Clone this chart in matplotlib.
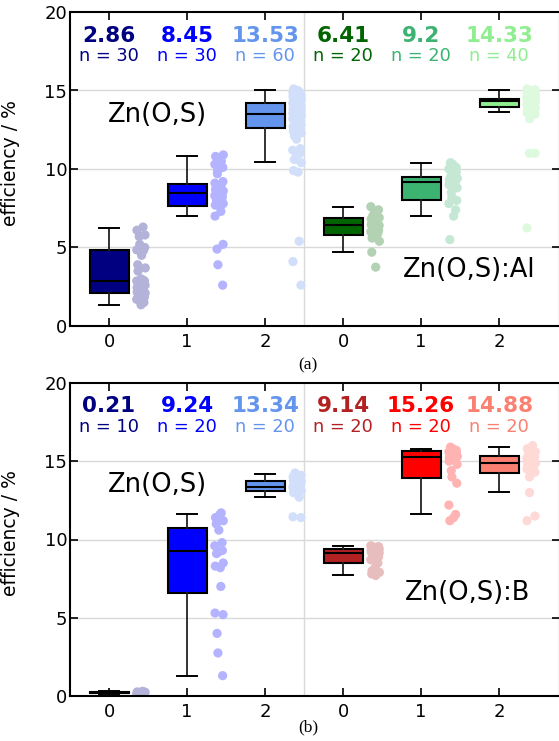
import numpy as np
import matplotlib
matplotlib.use("Agg")
import matplotlib.pyplot as plt
from matplotlib.colors import to_rgb

# ---------------- data ----------------
tick_labels = ["0", "1", "2", "0", "1", "2"]

# panel (a)
a_colors = ["#000080", "#0000FF", "#6495ED", "#006400", "#3CB371", "#90EE90"]
a_n = [30, 30, 60, 20, 20, 40]
a_med = [2.86, 8.45, 13.53, 6.41, 9.2, 14.33]
a_q1 = [2.08, 7.66, 12.61, 5.78, 8.00, 13.95]
a_q3 = [4.84, 9.06, 14.18, 6.86, 9.49, 14.44]
a_lo = [1.34, 7.03, 10.45, 4.71, 7.03, 13.61]
a_hi = [6.26, 10.85, 15.05, 7.58, 10.40, 15.05]
a_pts0 = [1.35, 1.5, 1.7, 1.85, 1.95, 2.05, 2.1, 2.15, 2.2, 2.3, 2.45, 2.6, 2.7, 2.8, 2.85,
          2.87, 2.9, 3.0, 3.5, 3.7, 3.9, 4.5, 4.8, 4.85, 5.0, 5.2, 5.7, 5.8, 6.1, 6.3]
a_pts1 = [2.6, 3.9, 4.9, 5.2, 7.0, 7.3, 7.6, 7.7, 7.8, 8.0, 8.1, 8.2, 8.3, 8.4, 8.45,
          8.5, 8.6, 8.7, 8.8, 9.0, 9.1, 9.2, 9.7, 9.9, 10.1, 10.3, 10.5, 10.6, 10.8, 10.9]
a_pts2 = [2.6, 4.1, 5.4, 9.8, 9.9, 10.4, 10.6, 10.9, 11.0, 11.2, 11.3, 11.9, 12.1, 12.3, 12.4,
          12.5, 12.6, 12.7, 12.8, 12.9, 13.0, 13.1, 13.2, 13.25, 13.3, 13.35, 13.4, 13.45, 13.5, 13.52,
          13.55, 13.6, 13.65, 13.7, 13.75, 13.8, 13.85, 13.9, 13.95, 14.0, 14.05, 14.1, 14.15, 14.2, 14.25,
          14.3, 14.35, 14.4, 14.45, 14.5, 14.55, 14.6, 14.65, 14.7, 14.75, 14.8, 14.85, 14.9, 15.0, 15.1]
a_pts3 = [3.75, 4.7, 5.4, 5.6, 5.8, 5.9, 6.0, 6.1, 6.2, 6.3, 6.4, 6.45, 6.5, 6.6, 6.8,
          6.9, 7.0, 7.2, 7.4, 7.6]
a_pts4 = [5.5, 7.0, 7.4, 7.8, 8.0, 8.2, 8.5, 8.8, 9.0, 9.1, 9.2, 9.3, 9.4, 9.5, 9.6,
          9.8, 10.0, 10.1, 10.3, 10.4]
a_pts5 = [6.25, 11.0, 11.0, 13.2, 13.5, 13.6, 13.7, 13.8, 13.85, 13.9, 13.95, 14.0, 14.05, 14.1,
          14.15, 14.2, 14.25, 14.3, 14.3, 14.33, 14.35, 14.4, 14.4, 14.45, 14.5, 14.5, 14.55, 14.6,
          14.6, 14.65, 14.7, 14.75, 14.8, 14.85, 14.9, 14.95, 15.0, 15.0, 15.05, 15.1]

# panel (b)
b_colors = ["#000080", "#0000FF", "#6495ED", "#B22222", "#FF0000", "#FA8072"]
b_n = [10, 20, 20, 20, 20, 20]
b_med = [0.21, 9.24, 13.34, 9.14, 15.26, 14.88]
b_q1 = [0.17, 6.56, 13.10, 8.50, 13.95, 14.25]
b_q3 = [0.25, 10.76, 13.76, 9.39, 15.65, 15.31]
b_lo = [0.12, 1.28, 12.72, 7.73, 11.63, 13.02]
b_hi = [0.30, 11.63, 14.20, 9.60, 15.80, 15.93]
b_pts0 = [0.1, 0.12, 0.15, 0.18, 0.2, 0.22, 0.24, 0.26, 0.28, 0.3]
b_pts1 = [1.3, 2.75, 4.0, 5.2, 5.3, 7.0, 8.2, 8.3, 8.5, 9.1, 9.2, 9.3, 9.6, 9.8, 10.6,
          11.0, 11.2, 11.4, 11.6, 11.7]
b_pts2 = [11.4, 11.45, 12.7, 12.9, 13.0, 13.1, 13.2, 13.25, 13.3, 13.35, 13.4, 13.5, 13.6,
          13.7, 13.75, 13.8, 13.9, 14.0, 14.1, 14.25]
b_pts3 = [7.7, 7.8, 7.9, 8.0, 8.2, 8.5, 8.7, 8.9, 9.0, 9.1, 9.15, 9.2, 9.25, 9.3, 9.35,
          9.4, 9.45, 9.5, 9.55, 9.6]
b_pts4 = [11.2, 11.4, 11.6, 12.2, 13.6, 14.0, 14.4, 14.8, 15.0, 15.1, 15.2, 15.25, 15.3,
          15.4, 15.5, 15.55, 15.6, 15.7, 15.8, 15.9]
b_pts5 = [11.2, 11.5, 13.0, 14.0, 14.3, 14.5, 14.6, 14.7, 14.8, 14.85, 14.9, 15.0, 15.1,
          15.2, 15.3, 15.4, 15.5, 15.6, 15.8, 16.0]

panels = [
    dict(colors=a_colors, n=a_n, med=a_med, q1=a_q1, q3=a_q3, lo=a_lo, hi=a_hi,
         pts=[a_pts0, a_pts1, a_pts2, a_pts3, a_pts4, a_pts5],
         left_label="Zn(O,S)", left_xy=(0.62, 13.46),
         right_label="Zn(O,S):Al", right_xy=(4.61, 3.57), tag="(a)"),
    dict(colors=b_colors, n=b_n, med=b_med, q1=b_q1, q3=b_q3, lo=b_lo, hi=b_hi,
         pts=[b_pts0, b_pts1, b_pts2, b_pts3, b_pts4, b_pts5],
         left_label="Zn(O,S)", left_xy=(0.62, 13.5),
         right_label="Zn(O,S):B", right_xy=(4.6, 6.6), tag="(b)"),
]


def pale(c, a=0.3):
    r = np.array(to_rgb(c))
    return tuple(1 - a * (1 - r))


# ---------------- figure ----------------
W, H = 559, 741
fig = plt.figure(figsize=(W / 100, H / 100), dpi=100)
axes_px = [(70, 12, 326), (70, 383, 696)]  # left, top, bottom in pixels
right_px = 560
tag_y = [365, 727]

for p, (lpx, tpx, bpx), ty in zip(panels, axes_px, tag_y):
    ax = fig.add_axes([lpx / W, 1 - bpx / H, (right_px - lpx) / W, (bpx - tpx) / H])
    pos = np.arange(6)
    stats = []
    for i in range(6):
        stats.append(dict(med=p["med"][i], q1=p["q1"][i], q3=p["q3"][i],
                          whislo=p["lo"][i], whishi=p["hi"][i], fliers=[]))
    bp = ax.bxp(stats, positions=pos, widths=0.5, patch_artist=True, showfliers=False,
                boxprops=dict(edgecolor="black", linewidth=1.5),
                medianprops=dict(color="black", linewidth=1.5),
                whiskerprops=dict(color="#222222", linewidth=1.3),
                capprops=dict(color="black", linewidth=1.4), zorder=3)
    for patch, c in zip(bp["boxes"], p["colors"]):
        patch.set_facecolor(c)

    for i in range(6):
        vals = np.asarray(p["pts"][i])
        k = np.arange(len(vals))
        xoff = 0.41 + 0.055 * np.sin(k * 2.39996 + i)
        ax.scatter(i + xoff, vals, s=44, color=pale(p["colors"][i]),
                   edgecolors="none", zorder=2)
        ax.text(i, 18.5, f"{p['med'][i]:g}", color=p["colors"][i], fontsize=15.5,
                fontweight="bold", ha="center", va="center")
        ax.text(i, 17.2, f"n = {p['n'][i]}", color=p["colors"][i], fontsize=12.8,
                ha="center", va="center")

    ax.text(*p["left_xy"], p["left_label"], fontsize=18.5, ha="center", va="center")
    ax.text(*p["right_xy"], p["right_label"], fontsize=18.5, ha="center", va="center")

    for yv in (5, 10, 15):
        ax.axhline(yv, color="#d9d9d9", linewidth=1.0, zorder=0)
    ax.axvline(2.5, color="#d9d9d9", linewidth=1.0, zorder=0)

    ax.set_xlim(-0.5, 5.78)
    ax.set_ylim(0, 20)
    ax.set_xticks(pos)
    ax.set_xticklabels(tick_labels)
    ax.set_yticks([0, 5, 10, 15, 20])
    ax.tick_params(direction="in", top=True, right=True, length=5.5, width=1.2,
                   labelsize=13)
    ax.tick_params(axis="x", pad=5)
    ax.tick_params(axis="y", pad=2)
    for sp in ax.spines.values():
        sp.set_linewidth(1.5)
    ax.set_ylabel("efficiency / %", fontsize=13.5)
    ax.yaxis.set_label_coords(-0.102, 0.52)
    fig.text(308 / W, 1 - ty / H, p["tag"], fontsize=12.5, family="Liberation Serif",
             ha="center", va="center")

fig.savefig("out.png", dpi=100)
